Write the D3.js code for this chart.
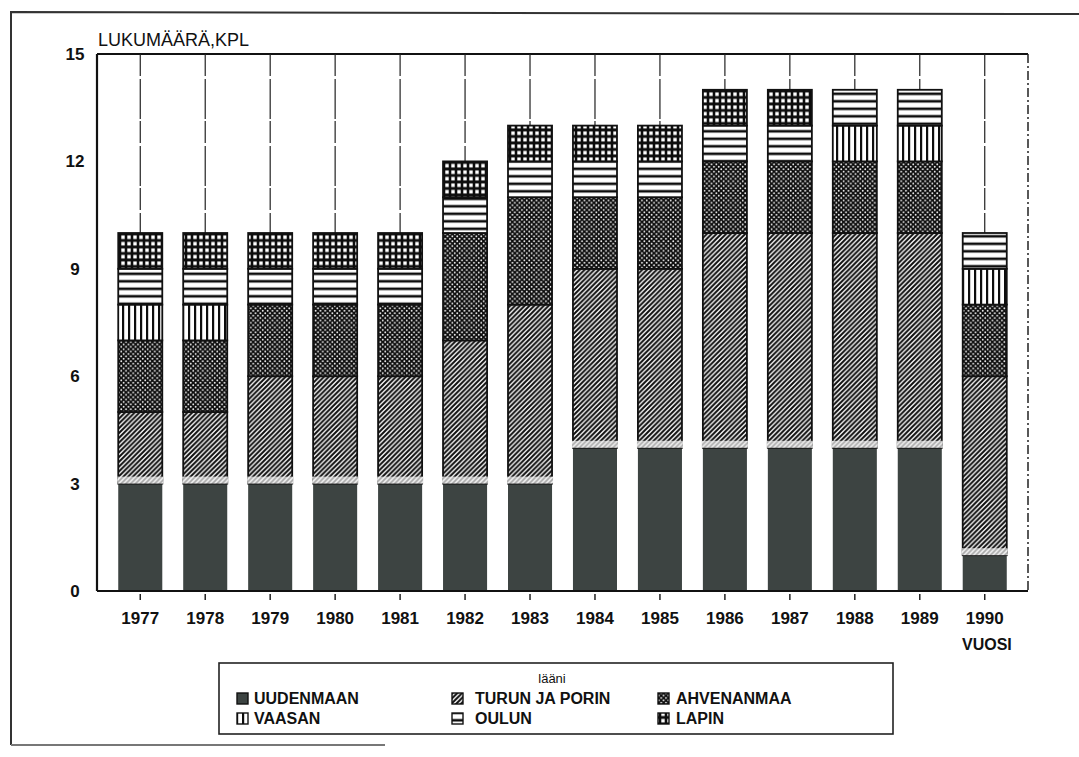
<!DOCTYPE html>
<html>
<head>
<meta charset="utf-8">
<script src="https://cdn.jsdelivr.net/npm/d3@7"></script>
<style>
  body { margin: 0; background: #fff; }
  svg text { font-family: "Liberation Sans", Arial, sans-serif; fill: #111; }
</style>
</head>
<body>
<svg id="chart" width="1079" height="757"></svg>
<script>
"use strict";

// lukumäärä (kpl) per lääni and year
const years = ["1977", "1978", "1979", "1980", "1981", "1982", "1983",
               "1984", "1985", "1986", "1987", "1988", "1989", "1990"];
const uudenmaan    = [3, 3, 3, 3, 3, 3, 3, 4, 4, 4, 4, 4, 4, 1];
const turunJaPorin = [2, 2, 3, 3, 3, 4, 5, 5, 5, 6, 6, 6, 6, 5];
const ahvenanmaa   = [2, 2, 2, 2, 2, 3, 3, 2, 2, 2, 2, 2, 2, 2];
const vaasan       = [1, 1, 0, 0, 0, 0, 0, 0, 0, 0, 0, 1, 1, 1];
const oulun        = [1, 1, 1, 1, 1, 1, 1, 1, 1, 1, 1, 1, 1, 1];
const lapin        = [1, 1, 1, 1, 1, 1, 1, 1, 1, 1, 1, 0, 0, 0];

const seriesKeys   = ["uud", "tur", "ahv", "vaa", "oul", "lap"];
const seriesLabels = ["UUDENMAAN", "TURUN JA PORIN", "AHVENANMAA", "VAASAN", "OULUN", "LAPIN"];
const yTicks = [0, 3, 6, 9, 12, 15];

const plotLeft = 97, plotRight = 1028, plotTop = 54, plotBottom = 591;
const darkFill = "#3d4442";

const svg = d3.select("svg#chart");
const defs = svg.append("defs");

function makePatterns() {
    // diagonal hatch  (turun ja porin)
    let p = defs.append("pattern").attr("id", "pat-tur")
        .attr("patternUnits", "userSpaceOnUse").attr("width", 4.8).attr("height", 4.8);
    p.append("rect").attr("width", 4.8).attr("height", 4.8).attr("fill", "#fff");
    p.append("path").attr("d", "M-1,5.8 L5.8,-1 M-1,1 L1,-1 M3.8,5.8 L5.8,3.8")
        .attr("stroke", "#0d0d0d").attr("stroke-width", 2);

    // faded hatch strip just above uudenmaan
    p = defs.append("pattern").attr("id", "pat-tur-light")
        .attr("patternUnits", "userSpaceOnUse").attr("width", 4.8).attr("height", 4.8);
    p.append("rect").attr("width", 4.8).attr("height", 4.8).attr("fill", "#eee");
    p.append("path").attr("d", "M-1,5.8 L5.8,-1 M-1,1 L1,-1 M3.8,5.8 L5.8,3.8")
        .attr("stroke", "#aaa").attr("stroke-width", 1.6);

    // dotted cross hatch (ahvenanmaa)
    p = defs.append("pattern").attr("id", "pat-ahv")
        .attr("patternUnits", "userSpaceOnUse").attr("width", 4.8).attr("height", 4.8);
    p.append("rect").attr("width", 4.8).attr("height", 4.8).attr("fill", "#0d0d0d");
    p.append("circle").attr("cx", 1.2).attr("cy", 1.2).attr("r", 0.9).attr("fill", "#fff");
    p.append("circle").attr("cx", 3.6).attr("cy", 3.6).attr("r", 0.9).attr("fill", "#fff");

    // vertical lines (vaasan)
    p = defs.append("pattern").attr("id", "pat-vaa")
        .attr("patternUnits", "userSpaceOnUse").attr("width", 6).attr("height", 6);
    p.append("rect").attr("width", 6).attr("height", 6).attr("fill", "#fff");
    p.append("rect").attr("x", 2).attr("width", 2.2).attr("height", 6).attr("fill", "#0d0d0d");

    // horizontal lines (oulun)
    p = defs.append("pattern").attr("id", "pat-oul")
        .attr("patternUnits", "userSpaceOnUse").attr("width", 7).attr("height", 7.5);
    p.append("rect").attr("width", 7).attr("height", 7.5).attr("fill", "#fff");
    p.append("rect").attr("y", 2.5).attr("width", 7).attr("height", 2.6).attr("fill", "#0d0d0d");

    // grid of small squares (lapin)
    p = defs.append("pattern").attr("id", "pat-lap")
        .attr("patternUnits", "userSpaceOnUse").attr("width", 6).attr("height", 6.5);
    p.append("rect").attr("width", 6).attr("height", 6.5).attr("fill", "#0d0d0d");
    p.append("rect").attr("x", 1.3).attr("y", 1.4).attr("width", 3.4).attr("height", 3.6).attr("fill", "#fff");
}

function fillFor(key) {
    return key === "uud" ? darkFill : "url(#pat-" + key + ")";
}

function draw() {
    makePatterns();

    const table = years.map((y, i) => ({
        year: y, uud: uudenmaan[i], tur: turunJaPorin[i], ahv: ahvenanmaa[i],
        vaa: vaasan[i], oul: oulun[i], lap: lapin[i]
    }));
    const stacked = d3.stack().keys(seriesKeys)(table);

    const xScale = d3.scaleBand().domain(years)
        .range([plotLeft, plotRight]).paddingInner(0.322).paddingOuter(0.327);
    const yScale = d3.scaleLinear().domain([0, 15]).range([plotBottom, plotTop]);

    // outer frame of the scanned page
    svg.append("path").attr("d", "M11,745 L11,12 L1079,14")
        .attr("fill", "none").attr("stroke", "#333").attr("stroke-width", 2);
    svg.append("line").attr("x1", 11).attr("x2", 385).attr("y1", 745).attr("y2", 745)
        .attr("stroke", "#777").attr("stroke-width", 2);

    // plot frame
    svg.append("line").attr("x1", plotLeft).attr("x2", plotRight)
        .attr("y1", plotTop).attr("y2", plotTop)
        .attr("stroke", "#111").attr("stroke-width", 2);
    svg.append("line").attr("x1", plotRight).attr("x2", plotRight)
        .attr("y1", plotTop).attr("y2", plotBottom)
        .attr("stroke", "#222").attr("stroke-width", 1.5).attr("stroke-dasharray", "9,3,2,3");

    // drop lines from frame top to each bar
    const totals = table.map(d => d3.sum(seriesKeys, k => d[k]));
    svg.append("g").selectAll("line").data(years).join("line")
        .attr("x1", d => xScale(d) + xScale.bandwidth() / 2)
        .attr("x2", d => xScale(d) + xScale.bandwidth() / 2)
        .attr("y1", plotTop)
        .attr("y2", (d, i) => yScale(totals[i]))
        .attr("stroke", "#222").attr("stroke-width", 1.2)
        .attr("stroke-dasharray", "22,3,40,2");

    // stacked bars
    const layers = svg.append("g").selectAll("g").data(stacked).join("g")
        .attr("fill", s => fillFor(s.key));
    layers.selectAll("rect")
        .data(s => s.map(seg => ({ key: s.key, seg: seg })).filter(d => d.seg[1] > d.seg[0]))
        .join("rect")
        .attr("x", d => xScale(d.seg.data.year))
        .attr("y", d => yScale(d.seg[1]))
        .attr("width", xScale.bandwidth())
        .attr("height", d => yScale(d.seg[0]) - yScale(d.seg[1]))
        .attr("stroke", d => d.key === "uud" ? "none" : "#111")
        .attr("stroke-width", 1.8);

    // light strip at the foot of the turun ja porin hatch
    const turLayer = stacked[1];
    svg.append("g").selectAll("rect").data(turLayer).join("rect")
        .attr("x", d => xScale(d.data.year) - 1)
        .attr("y", d => yScale(d[0]) - 7)
        .attr("width", xScale.bandwidth() + 2)
        .attr("height", 7)
        .attr("fill", "url(#pat-tur-light)");

    // axes
    svg.append("line").attr("x1", plotLeft).attr("x2", plotLeft)
        .attr("y1", plotTop).attr("y2", plotBottom)
        .attr("stroke", "#111").attr("stroke-width", 2.2);
    svg.append("line").attr("x1", plotLeft).attr("x2", plotRight)
        .attr("y1", plotBottom).attr("y2", plotBottom)
        .attr("stroke", "#111").attr("stroke-width", 2);

    const yAxis = svg.append("g").attr("transform", `translate(${plotLeft},0)`)
        .call(d3.axisLeft(yScale).tickValues(yTicks).tickSize(0).tickPadding(0));
    yAxis.select(".domain").remove();
    yAxis.selectAll("text")
        .attr("x", -22).attr("text-anchor", "middle")
        .style("font-size", "17px").style("font-weight", "bold");

    const xAxis = svg.append("g").attr("transform", `translate(0,${plotBottom + 3})`)
        .call(d3.axisBottom(xScale).tickSize(6).tickPadding(12));
    xAxis.select(".domain").remove();
    xAxis.selectAll(".tick line").attr("stroke", "#222").attr("stroke-width", 1.5);
    xAxis.selectAll("text")
        .style("font-size", "17px").style("font-weight", "bold");

    // axis titles
    svg.append("text").attr("x", 98).attr("y", 46)
        .style("font-size", "18px").text("LUKUMÄÄRÄ,KPL");
    svg.append("text").attr("x", 962).attr("y", 650)
        .style("font-size", "16px").style("font-weight", "bold").text("VUOSI");

    // legend
    const legend = svg.append("g");
    legend.append("rect").attr("x", 219).attr("y", 663).attr("width", 674).attr("height", 71)
        .attr("fill", "none").attr("stroke", "#222").attr("stroke-width", 1.6);
    legend.append("text").attr("x", 552).attr("y", 683).attr("text-anchor", "middle")
        .style("font-size", "13px").text("lääni");

    const colIcon = [237, 452, 658];
    const colText = [254, 475, 676];
    const rowBase = [704, 724];
    const items = legend.selectAll("g.item").data(seriesKeys).join("g")
        .attr("class", "item")
        .attr("transform", (k, i) => `translate(0,${rowBase[Math.floor(i / 3)]})`);
    items.append("rect")
        .attr("x", (k, i) => colIcon[i % 3]).attr("y", -11)
        .attr("width", 11).attr("height", 11)
        .attr("fill", k => fillFor(k))
        .attr("stroke", "#111").attr("stroke-width", 1.4);
    items.append("text")
        .attr("x", (k, i) => colText[i % 3]).attr("y", 0)
        .style("font-size", "16px").style("font-weight", "bold")
        .text((k, i) => seriesLabels[i]);
}

window.addEventListener("load", draw);
</script>
</body>
</html>
